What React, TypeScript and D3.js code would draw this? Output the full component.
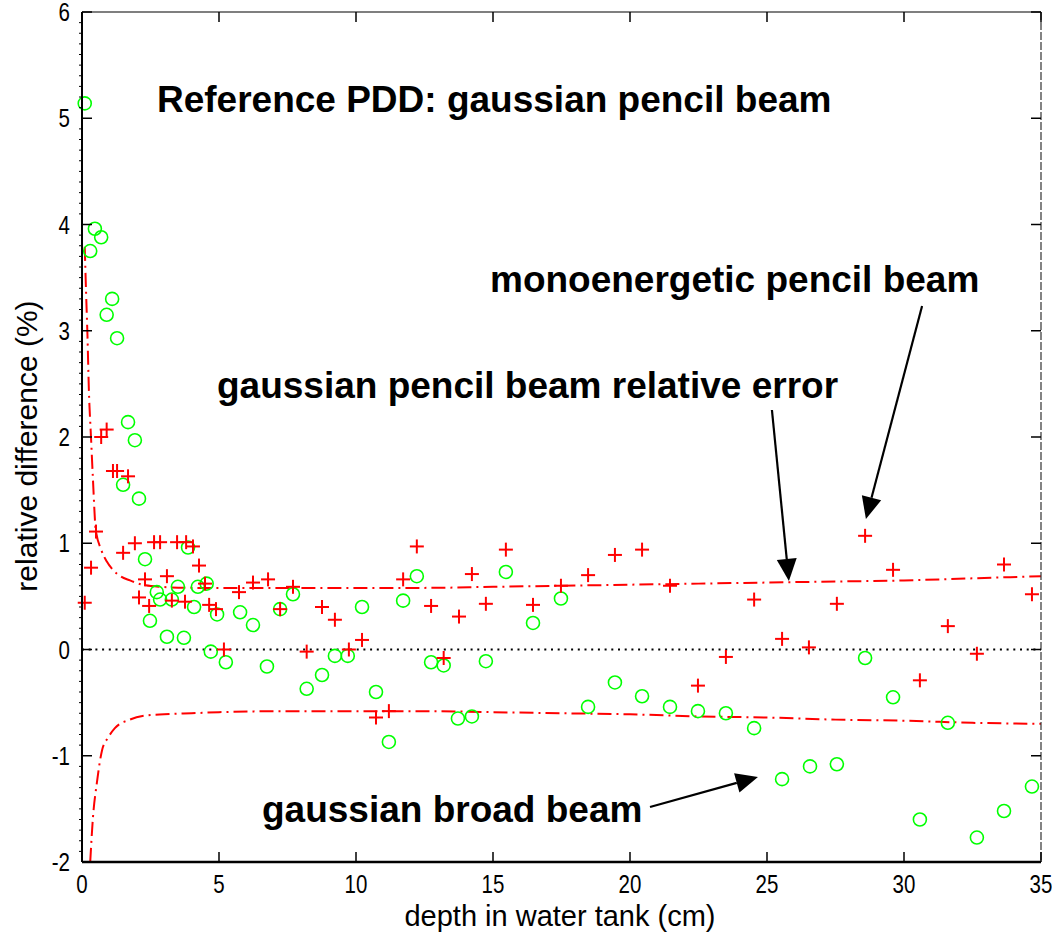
import React from "react";
import * as d3 from "d3";

// ---------- data ----------
const broadX = [0.1, 0.3, 0.47, 0.7, 0.9, 1.1, 1.28, 1.5, 1.68, 1.93, 2.08, 2.3, 2.48, 2.73, 2.85, 3.1, 3.28, 3.5, 3.72, 3.87, 4.09, 4.23, 4.55, 4.7, 4.93, 5.25, 5.77, 6.24, 6.75, 7.23, 7.7, 8.2, 8.76, 9.23, 9.7, 10.22, 10.73, 11.2, 11.72, 12.22, 12.74, 13.2, 13.72, 14.23, 14.74, 15.47, 16.46, 17.48, 18.47, 19.45, 20.44, 21.46, 22.48, 23.5, 24.53, 25.55, 26.57, 27.55, 28.58, 29.6, 30.58, 31.6, 32.66, 33.65, 34.67];
const broadY = [5.14, 3.75, 3.96, 3.88, 3.15, 3.3, 2.93, 1.55, 2.14, 1.97, 1.42, 0.85, 0.27, 0.54, 0.47, 0.12, 0.47, 0.59, 0.11, 0.96, 0.4, 0.59, 0.62, -0.02, 0.33, -0.12, 0.35, 0.23, -0.16, 0.38, 0.52, -0.37, -0.24, -0.06, -0.06, 0.4, -0.4, -0.87, 0.46, 0.69, -0.12, -0.15, -0.65, -0.63, -0.11, 0.73, 0.25, 0.48, -0.54, -0.31, -0.44, -0.54, -0.58, -0.6, -0.74, -1.22, -1.1, -1.08, -0.08, -0.45, -1.6, -0.69, -1.77, -1.52, -1.29];

const monoX = [0.1, 0.33, 0.51, 0.7, 0.9, 1.13, 1.28, 1.5, 1.68, 1.93, 2.08, 2.3, 2.45, 2.63, 2.85, 3.1, 3.28, 3.47, 3.76, 3.8, 4.05, 4.27, 4.49, 4.64, 4.89, 5.18, 5.73, 6.24, 6.79, 7.23, 7.7, 8.2, 8.76, 9.23, 9.74, 10.22, 10.73, 11.2, 11.72, 12.22, 12.74, 13.2, 13.76, 14.23, 14.74, 15.47, 16.46, 17.48, 18.47, 19.45, 20.44, 21.46, 22.48, 23.5, 24.53, 25.55, 26.53, 27.55, 28.58, 29.6, 30.58, 31.6, 32.66, 33.65, 34.67];
const monoY = [0.44, 0.77, 1.11, 2.0, 2.07, 1.68, 1.68, 0.91, 1.63, 1.0, 0.49, 0.66, 0.41, 1.01, 1.01, 0.69, 0.46, 1.01, 0.45, 1.01, 0.97, 0.79, 0.62, 0.42, 0.38, 0.0, 0.54, 0.63, 0.66, 0.38, 0.59, -0.02, 0.4, 0.28, 0.0, 0.09, -0.64, -0.58, 0.66, 0.97, 0.41, -0.08, 0.31, 0.71, 0.43, 0.94, 0.42, 0.6, 0.7, 0.89, 0.94, 0.6, -0.34, -0.07, 0.47, 0.1, 0.02, 0.43, 1.07, 0.75, -0.29, 0.22, -0.04, 0.8, 0.52];

const upperX = [0.1, 0.15, 0.2, 0.25, 0.33, 0.4, 0.5, 0.7, 0.9, 1.13, 1.4, 1.75, 2.2, 2.85, 4, 6, 8, 10, 12.5, 15, 17.5, 20, 22.5, 25, 27.5, 30, 32.5, 35];
const upperY = [3.79, 3.35, 2.95, 2.45, 1.99, 1.6, 1.13, 0.94, 0.83, 0.75, 0.69, 0.65, 0.61, 0.59, 0.58, 0.58, 0.58, 0.58, 0.58, 0.59, 0.6, 0.61, 0.62, 0.63, 0.64, 0.65, 0.67, 0.69];
const lowerX = [0.3, 0.4, 0.54, 0.73, 0.95, 1.2, 1.75, 2.37, 3, 4, 5, 7.5, 10, 12.5, 15, 17.5, 20, 22.5, 25, 27.5, 30, 32.5, 35];
const lowerY = [-2.0, -1.58, -1.26, -0.95, -0.83, -0.74, -0.66, -0.62, -0.61, -0.6, -0.59, -0.58, -0.58, -0.58, -0.59, -0.6, -0.61, -0.63, -0.64, -0.66, -0.67, -0.69, -0.7];

const xTicks = [0, 5, 10, 15, 20, 25, 30, 35];
const yTicks = [-2, -1, 0, 1, 2, 3, 4, 5, 6];

const labels = [
  { text: "Reference PDD: gaussian pencil beam", x: 2.737, y: 5.059 },
  { text: "monoenergetic pencil beam", x: 14.89, y: 3.365 },
  { text: "gaussian pencil beam relative error", x: 4.927, y: 2.367 },
  { text: "gaussian broad beam", x: 6.569, y: -1.624 },
];
const arrows = [
  { x1: 30.66, y1: 3.233, x2: 28.61, y2: 1.228 },
  { x1: 25.18, y1: 2.254, x2: 25.8, y2: 0.645 },
  { x1: 20.73, y1: -1.482, x2: 24.67, y2: -1.2 },
];

// ---------- layout ----------
const W = 1052;
const H = 935;
const L = 82, R = 1041, T = 12, B = 862;

export default function App() {
  const x = d3.scaleLinear().domain([0, 35]).range([L, R]);
  const y = d3.scaleLinear().domain([-2, 6]).range([B, T]);

  const line = d3
    .line<[number, number]>()
    .x((d) => x(d[0]))
    .y((d) => y(d[1]))
    .curve(d3.curveMonotoneX);
  const upperPts = upperX.map((v, i) => [v, upperY[i]] as [number, number]);
  const lowerPts = lowerX.map((v, i) => [v, lowerY[i]] as [number, number]);

  const minor = d3.range(-2, 6.001, 0.1).filter((v) => Math.abs(v - Math.round(v)) > 0.01);
  const tick = 10;
  const red = "#ff0000";
  const green = "#00ff00";
  const font = "'Liberation Sans', Arial, Helvetica, sans-serif";

  return (
    <svg
      width={W}
      height={H}
      style={{ position: "absolute", left: 0, top: 0, background: "#fff" }}
      fontFamily={font}
    >
      <rect x={0} y={0} width={W} height={H} fill="#fff" />

      {/* zero line */}
      <line x1={x(0)} x2={x(35)} y1={y(0)} y2={y(0)} stroke="#000" strokeWidth={2} strokeDasharray="2,4.7" />

      {/* envelope curves */}
      <path d={line(upperPts) || ""} fill="none" stroke={red} strokeWidth={2} strokeDasharray="14,5,2,5" />
      <path d={line(lowerPts) || ""} fill="none" stroke={red} strokeWidth={2} strokeDasharray="14,5,2,5" />

      {/* broad beam circles */}
      {broadX.map((v, i) => (
        <circle key={"c" + i} cx={x(v)} cy={y(broadY[i])} r={6.5} fill="none" stroke={green} strokeWidth={1.6} />
      ))}

      {/* monoenergetic crosses */}
      {monoX.map((v, i) => {
        const cx = x(v);
        const cy = y(monoY[i]);
        return (
          <g key={"p" + i} stroke={red} strokeWidth={2}>
            <line x1={cx - 7} x2={cx + 7} y1={cy} y2={cy} />
            <line x1={cx} x2={cx} y1={cy - 7} y2={cy + 7} />
          </g>
        );
      })}

      {/* frame */}
      <line x1={L} x2={R} y1={T} y2={T} stroke="#000" strokeWidth={1.2} />
      <line x1={R} x2={R} y1={T} y2={B} stroke="#333" strokeWidth={1.2} strokeDasharray="8,2" />
      <line x1={L} x2={L} y1={T} y2={B} stroke="#000" strokeWidth={2} />
      <line x1={L} x2={R} y1={B} y2={B} stroke="#000" strokeWidth={2.5} />

      {/* minor ticks on left axis */}
      {minor.map((v, i) => (
        <line key={"m" + i} x1={L - 3} x2={L} y1={y(v)} y2={y(v)} stroke="#000" strokeWidth={1} />
      ))}

      {/* x ticks */}
      {xTicks.map((v) => (
        <g key={"xt" + v}>
          <line x1={x(v)} x2={x(v)} y1={B} y2={B - tick} stroke="#000" strokeWidth={1.5} />
          <line x1={x(v)} x2={x(v)} y1={T} y2={T + tick} stroke="#000" strokeWidth={1.5} />
          <text
            transform={`translate(${x(v)},893) scale(0.82,1)`}
            textAnchor="middle"
            fontSize={25}
            fill="#000"
          >
            {String(v)}
          </text>
        </g>
      ))}

      {/* y ticks */}
      {yTicks.map((v) => (
        <g key={"yt" + v}>
          <line x1={L} x2={L + tick} y1={y(v)} y2={y(v)} stroke="#000" strokeWidth={1.5} />
          <line x1={R} x2={R - tick} y1={y(v)} y2={y(v)} stroke="#000" strokeWidth={1.5} />
          <text
            transform={`translate(70,${y(v) + 9}) scale(0.82,1)`}
            textAnchor="end"
            fontSize={25}
            fill="#000"
          >
            {v < 0 ? "-" + Math.abs(v) : String(v)}
          </text>
        </g>
      ))}

      {/* axis labels */}
      <text x={560} y={926} textAnchor="middle" fontSize={29} fill="#000">
        depth in water tank (cm)
      </text>
      <text transform="translate(37,446) rotate(-90)" textAnchor="middle" fontSize={30} fill="#000">
        relative difference (%)
      </text>

      {/* annotations */}
      {labels.map((l, i) => (
        <text key={"l" + i} x={x(l.x)} y={y(l.y)} fontSize={37} fontWeight="bold" fill="#000">
          {l.text}
        </text>
      ))}
      {arrows.map((a, i) => {
        const x1 = x(a.x1), y1 = y(a.y1), x2 = x(a.x2), y2 = y(a.y2);
        const ang = Math.atan2(y2 - y1, x2 - x1);
        const len = 22, hw = 10;
        const bx = x2 - len * Math.cos(ang);
        const by = y2 - len * Math.sin(ang);
        const px = -Math.sin(ang) * hw, py = Math.cos(ang) * hw;
        return (
          <g key={"a" + i}>
            <line x1={x1} y1={y1} x2={bx} y2={by} stroke="#000" strokeWidth={2.2} />
            <polygon points={`${x2},${y2} ${bx + px},${by + py} ${bx - px},${by - py}`} fill="#000" />
          </g>
        );
      })}
    </svg>
  );
}
